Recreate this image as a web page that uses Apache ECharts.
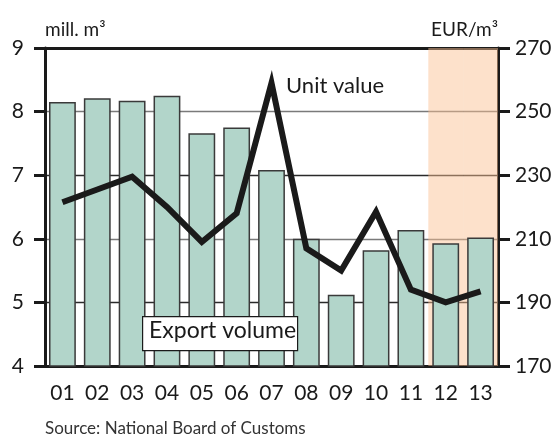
<!DOCTYPE html>
<html>
<head>
<meta charset="utf-8">
<script src="https://cdn.jsdelivr.net/npm/echarts@6/dist/echarts.min.js"></script>
<style>
html,body{margin:0;padding:0;background:#fff;}
#chart{width:560px;height:439px;}
</style>
</head>
<body>
<div id="chart"></div>
<script>
// years on the x axis
var years = ['01','02','03','04','05','06','07','08','09','10','11','12','13'];
// export volume, mill. m3 (left axis)
var exportVolume = [8.15, 8.21, 8.17, 8.25, 7.66, 7.75, 7.08, 6.00, 5.12, 5.82, 6.14, 5.93, 6.02];
// unit value, EUR/m3 (right axis)
var unitValue = [221.5, 225.5, 229.5, 220, 209, 218, 259, 207, 200, 218.5, 194, 190, 193.5];
// forecast years (shaded band, full height)
var forecast = ['-','-','-','-','-','-','-','-','-','-','-', 9, 9];

var font = 'Lato, "Open Sans", sans-serif';
var myChart = echarts.init(document.getElementById('chart'));
var option = {
    animation: false,
    grid: {left: 45, right: 62, top: 48, bottom: 73},
    xAxis: [
        {
            type: 'category',
            data: years,
            axisLine: {lineStyle: {color: '#1a1a1a', width: 3}},
            axisTick: {show: false},
            axisLabel: {color: '#1a1a1a', fontSize: 21, fontFamily: font, margin: 17}
        },
        {
            // top frame line, also carries the forecast band
            type: 'category',
            data: years,
            position: 'top',
            axisLine: {show: true, lineStyle: {color: '#1a1a1a', width: 3}},
            axisTick: {show: false},
            axisLabel: {show: false},
            splitLine: {show: false}
        }
    ],
    yAxis: [
        {
            type: 'value',
            min: 4,
            max: 9,
            interval: 1,
            name: 'mill. m³',
            nameLocation: 'end',
            nameGap: 9,
            nameTextStyle: {color: '#1a1a1a', fontSize: 19, fontFamily: font, align: 'left'},
            axisLine: {show: true, lineStyle: {color: '#1a1a1a', width: 3}},
            axisTick: {show: true, length: 11, lineStyle: {color: '#1a1a1a', width: 3}},
            axisLabel: {color: '#1a1a1a', fontSize: 21, fontFamily: font, margin: 21},
            splitLine: {show: true, lineStyle: {color: ['#7a7a7a', '#2a2a2a'], width: 1.3}}
        },
        {
            type: 'value',
            min: 170,
            max: 270,
            interval: 20,
            position: 'right',
            name: 'EUR/m³',
            nameLocation: 'end',
            nameGap: 9,
            nameTextStyle: {color: '#1a1a1a', fontSize: 19, fontFamily: font, align: 'right'},
            axisLine: {show: true, lineStyle: {color: '#1a1a1a', width: 3}},
            axisTick: {show: true, length: 12, lineStyle: {color: '#1a1a1a', width: 3}},
            axisLabel: {color: '#1a1a1a', fontSize: 21, fontFamily: font, margin: 17},
            splitLine: {show: false}
        }
    ],
    series: [
        {
            type: 'bar',
            xAxisIndex: 1,
            yAxisIndex: 0,
            z: 1,
            silent: true,
            barWidth: '100%',
            itemStyle: {color: 'rgba(250,192,146,0.48)'},
            data: forecast
        },
        {
            name: 'Export volume',
            type: 'bar',
            barWidth: '77%',
            z: 2,
            itemStyle: {color: '#b2d5ca', borderColor: '#3a3a3a', borderWidth: 1.5},
            data: exportVolume
        },
        {
            name: 'Unit value',
            type: 'line',
            yAxisIndex: 1,
            z: 3,
            symbol: 'none',
            lineStyle: {color: '#1a1a1a', width: 6, join: 'miter'},
            data: unitValue
        }
    ],
    graphic: [
        {
            type: 'text',
            left: 286,
            top: 75,
            style: {text: 'Unit value', fill: '#1a1a1a', font: '22px ' + font}
        },
        {
            type: 'rect',
            left: 142,
            top: 316,
            shape: {width: 155, height: 34},
            style: {fill: '#fff', stroke: '#1a1a1a', lineWidth: 1.2},
            z: 100
        },
        {
            type: 'text',
            left: 149,
            top: 319,
            style: {text: 'Export volume', fill: '#1a1a1a', font: '23px ' + font},
            z: 101
        },
        {
            type: 'text',
            left: 45,
            top: 420,
            style: {text: 'Source: National Board of Customs', fill: '#333', font: '17px ' + font}
        }
    ]
};
myChart.setOption(option);
</script>
</body>
</html>
